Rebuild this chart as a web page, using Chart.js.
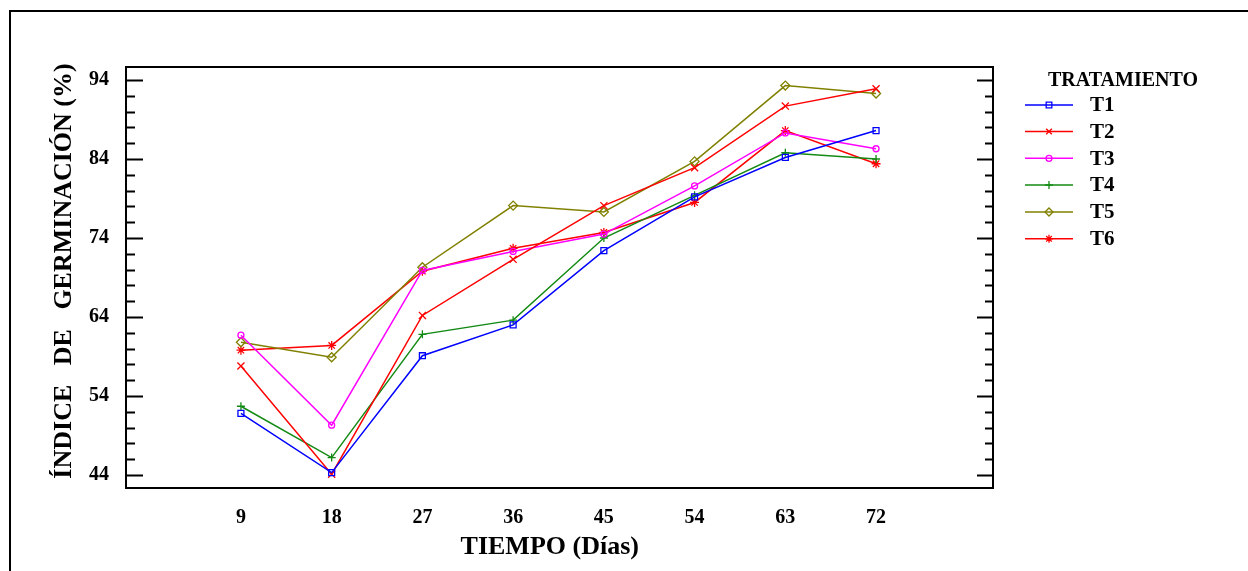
<!DOCTYPE html>
<html><head><meta charset="utf-8">
<script src="https://cdn.jsdelivr.net/npm/chart.js@4/dist/chart.umd.min.js"></script>
<style>html,body{margin:0;padding:0;background:#fff;overflow:hidden}#c{display:block}</style>
</head><body>
<canvas id="c" width="1248" height="571"></canvas>
<script>
// ---- data ----
const dias = [9, 18, 27, 36, 45, 54, 63, 72];
const T1 = [51.8, 44.3, 59.1, 63.0, 72.4, 79.2, 84.2, 87.6];
const T2 = [57.8, 44.1, 64.2, 71.3, 78.1, 82.9, 90.7, 92.9];
const T3 = [61.7, 50.3, 69.9, 72.3, 74.5, 80.6, 87.3, 85.3];
const T4 = [52.7, 46.2, 61.8, 63.6, 74.0, 79.4, 84.8, 84.0];
const T5 = [60.8, 58.9, 70.3, 78.1, 77.3, 83.7, 93.3, 92.3];
const T6 = [59.8, 60.4, 69.8, 72.7, 74.7, 78.5, 87.6, 83.4];
const seriesNames = ['T1', 'T2', 'T3', 'T4', 'T5', 'T6'];
const yMajorTicks = [44, 54, 64, 74, 84, 94];
const yMinorTicks = [46, 48, 50, 52, 56, 58, 60, 62, 66, 68, 70, 72, 76, 78, 80, 82, 86, 88, 90, 92];
const xTickLabels = [9, 18, 27, 36, 45, 54, 63, 72];
const legendTitle = 'TRATAMIENTO';
const xTitle = 'TIEMPO (Días)\u00a0\u00a0\u00a0';
const yTitle = '\u00a0\u00a0ÍNDICE   DE   GERMINACIÓN (%)';

// ---- styles ----
const FONT = "'Liberation Serif', 'Times New Roman', serif";
const styles = [
  {color: '#0000ff', pointStyle: 'rect', radius: 4.2},
  {color: '#ff0000', pointStyle: 'crossRot', radius: 5},
  {color: '#ff00ff', pointStyle: 'circle', radius: 3},
  {color: '#138a13', pointStyle: 'cross', radius: 4},
  {color: '#808000', pointStyle: 'rectRot', radius: 4.5},
  {color: '#ff0000', pointStyle: 'star', radius: 4.5}
];
const allSeries = [T1, T2, T3, T4, T5, T6];

const datasets = allSeries.map((vals, i) => ({
  label: seriesNames[i],
  data: vals.map((v, j) => ({x: dias[j], y: v})),
  borderColor: styles[i].color,
  backgroundColor: 'rgba(0,0,0,0)',
  pointBorderColor: styles[i].color,
  pointBackgroundColor: 'rgba(0,0,0,0)',
  pointStyle: styles[i].pointStyle,
  pointRadius: styles[i].radius,
  pointBorderWidth: 1.3,
  borderWidth: 1.5,
  tension: 0,
  fill: false
}));

const framePlugin = {
  id: 'frame',
  afterDraw(chart) {
    const ctx = chart.ctx;
    const ca = chart.chartArea;
    const y = chart.scales.y;
    ctx.save();
    ctx.strokeStyle = '#000';
    ctx.lineWidth = 2;
    // outer frame
    ctx.beginPath();
    ctx.moveTo(10, 571); ctx.lineTo(10, 11); ctx.lineTo(1248, 11);
    ctx.stroke();
    // plot box
    ctx.strokeRect(ca.left, ca.top, ca.right - ca.left, ca.bottom - ca.top);
    // inward ticks on left and right
    ctx.beginPath();
    yMajorTicks.forEach(v => {
      const py = Math.round(y.getPixelForValue(v)) + 0.5;
      ctx.moveTo(ca.left, py); ctx.lineTo(ca.left + 17, py);
      ctx.moveTo(ca.right, py); ctx.lineTo(ca.right - 16, py);
    });
    yMinorTicks.forEach(v => {
      const py = Math.round(y.getPixelForValue(v)) + 0.5;
      ctx.moveTo(ca.left, py); ctx.lineTo(ca.left + 9, py);
      ctx.moveTo(ca.right, py); ctx.lineTo(ca.right - 8, py);
    });
    ctx.stroke();
    // legend
    ctx.fillStyle = '#000';
    ctx.textBaseline = 'middle';
    ctx.textAlign = 'left';
    ctx.font = "bold 20px " + FONT;
    ctx.fillText(legendTitle, 1048, 81);
    const rows = [105, 131.5, 158.3, 185, 212, 238.8];
    chart.data.datasets.forEach((ds, i) => {
      const ry = rows[i];
      ctx.strokeStyle = ds.borderColor;
      ctx.lineWidth = 1.5;
      ctx.beginPath();
      ctx.moveTo(1025, ry); ctx.lineTo(1073, ry);
      ctx.stroke();
      ctx.lineWidth = 1.3;
      ctx.fillStyle = 'rgba(0,0,0,0)';
      Chart.helpers.drawPoint(ctx, {pointStyle: ds.pointStyle, radius: Math.min(ds.pointRadius, 4), rotation: 0, borderWidth: 1.3}, 1049, ry);
      ctx.fillStyle = '#000';
      ctx.font = "bold 21px " + FONT;
      ctx.fillText(ds.label, 1090, ry + 1);
    });
    ctx.restore();
  }
};

new Chart(document.getElementById('c'), {
  type: 'line',
  data: {datasets},
  plugins: [framePlugin],
  options: {
    responsive: false,
    animation: false,
    events: [],
    layout: {padding: {left: 0, right: 255, top: 67, bottom: 0}},
    plugins: {legend: {display: false}, tooltip: {enabled: false}, title: {display: false}},
    scales: {
      x: {
        type: 'linear', min: -2.4, max: 83.6,
        afterBuildTicks: s => { s.ticks = xTickLabels.map(v => ({value: v})); },
        afterFit: s => { s.height = 83; },
        grid: {display: false},
        border: {display: false},
        ticks: {padding: 10, color: '#000', autoSkip: false, maxRotation: 0,
                font: {family: FONT, size: 20, weight: 'bold'}},
        title: {display: true, text: xTitle, color: '#000',
                font: {family: FONT, size: 26, weight: 'bold'}, padding: {top: 0, bottom: 8}}
      },
      y: {
        type: 'linear', min: 42.35, max: 95.65,
        afterBuildTicks: s => { s.ticks = yMajorTicks.map(v => ({value: v})); },
        afterFit: s => { s.width = 126; },
        grid: {display: false},
        border: {display: false},
        ticks: {padding: 9, color: '#000', autoSkip: false,
                font: {family: FONT, size: 20, weight: 'bold'}},
        title: {display: true, text: yTitle, color: '#000',
                font: {family: FONT, size: 26, weight: 'bold'}, padding: {top: 49, bottom: 0}}
      }
    }
  }
});
</script>
</body></html>
